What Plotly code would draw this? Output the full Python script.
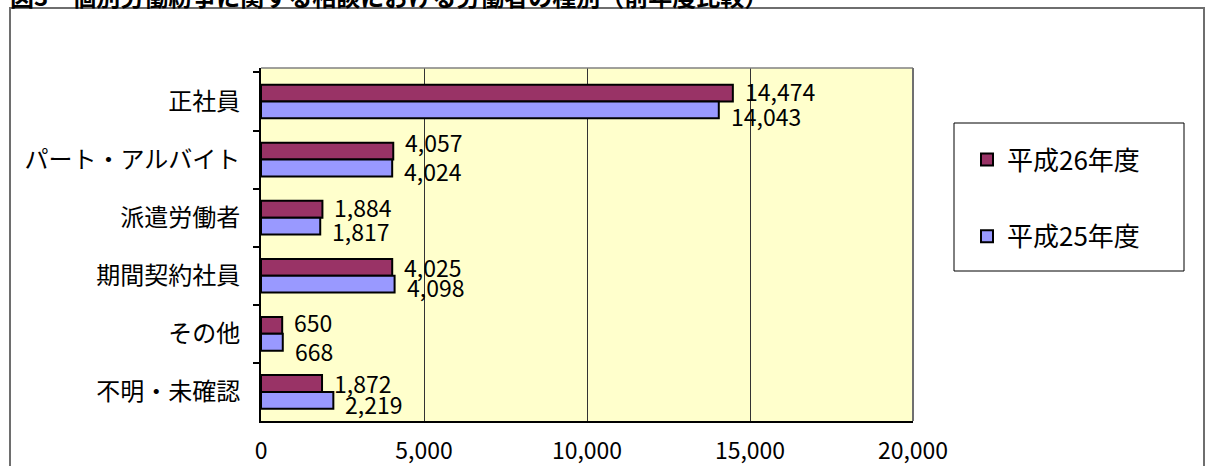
import plotly.graph_objects as go

# ---- data ----
categories = ["正社員", "パート・アルバイト", "派遣労働者", "期間契約社員", "その他", "不明・未確認"]
h26 = [14474, 4057, 1884, 4025, 650, 1872]
h25 = [14043, 4024, 1817, 4098, 668, 2219]
series_names = ["平成26年度", "平成25年度"]
x_ticks = [0, 5000, 10000, 15000, 20000]
x_tick_labels = ["0", "5,000", "10,000", "15,000", "20,000"]
title_text = "<b>図3　個別労働紛争に関する相談における労働者の種別（前年度比較）</b>"

# ---- style ----
colors = ["#993366", "#9999FF"]
label_dy_26 = [0, 7, 0, -2, 1, -2]
label_dy_25 = [-8, -5, -7, -5, -11, -6]
FONT = "Noto Sans CJK JP, Noto Sans, sans-serif"

W, H = 1208, 466
L, R, T, B = 261, 913, 68, 421


def xp(px):
    return (px - L) / (R - L)


def yp(py):
    return (B - py) / (B - T)


fig = go.Figure()
for name, vals, col, grp in [(series_names[0], h26, colors[0], "a"), (series_names[1], h25, colors[1], "b")]:
    fig.add_trace(go.Bar(
        y=categories, x=vals, name=name, orientation="h",
        marker=dict(color=col, line=dict(color="black", width=2)),
        legendgroup=grp,
    ))

annotations = []
for vals, dys, base in [(h26, label_dy_26, 8.5), (h25, label_dy_25, -8.5)]:
    for c, v, dy in zip(categories, vals, dys):
        annotations.append(dict(
            x=v, y=c, xref="x", yref="y", text=f"{v:,}", showarrow=False,
            xanchor="left", yanchor="middle", xshift=10, yshift=base + dy + 2,
            font=dict(size=23, color="black", family=FONT),
        ))

annotations.append(dict(
    x=xp(8), y=yp(-5), xref="paper", yref="paper", text=title_text,
    showarrow=False, xanchor="left", yanchor="middle",
    font=dict(size=24, color="black", family=FONT),
))

shapes = [
    # outer chart frame
    dict(type="rect", xref="paper", yref="paper", x0=xp(10), x1=xp(1204), y0=yp(490), y1=yp(8),
         line=dict(color="#6e6e6e", width=2), layer="below"),
    # plot area top / right edges
    dict(type="line", xref="paper", yref="paper", x0=0, x1=1, y0=1, y1=1,
         line=dict(color="#808080", width=1.5)),
    dict(type="line", xref="paper", yref="paper", x0=1, x1=1, y0=0, y1=1,
         line=dict(color="#707070", width=2)),
    # legend box
    dict(type="rect", xref="paper", yref="paper", x0=xp(954), x1=xp(1184), y0=yp(271), y1=yp(123),
         line=dict(color="black", width=1)),
]

fig.update_layout(
    width=W, height=H,
    margin=dict(l=L, r=W - R, t=T, b=H - B, pad=0, autoexpand=False),
    paper_bgcolor="white", plot_bgcolor="#FFFFCC",
    barmode="group", bargap=0.42, bargroupgap=0,
    font=dict(family=FONT, color="black"),
    showlegend=True,
    legend=dict(x=xp(967), y=yp(136), xanchor="left", yanchor="top",
                bgcolor="rgba(0,0,0,0)", borderwidth=0,
                font=dict(size=26, family=FONT), tracegroupgap=40,
                traceorder="grouped"),
    annotations=annotations,
    shapes=shapes,
)
fig.update_xaxes(
    range=[0, 20000], tickvals=x_ticks, ticktext=x_tick_labels,
    showgrid=True, gridcolor="#333333", gridwidth=1, zeroline=False,
    showline=True, linecolor="black", linewidth=2, ticks="",
    tickfont=dict(size=23, family=FONT), ticklabelstandoff=8, automargin=False,
)
fig.update_yaxes(
    type="category", autorange="reversed", showgrid=False, zeroline=False,
    showline=True, linecolor="black", linewidth=2,
    ticks="outside", tickson="boundaries", ticklen=6, tickcolor="black", tickwidth=1.5,
    tickfont=dict(size=24, family=FONT), ticklabelstandoff=14, automargin=False,
)

fig.write_html("out.html", config={"displayModeBar": False},
               post_script="document.body.style.margin='0';document.body.style.overflow='hidden';")
